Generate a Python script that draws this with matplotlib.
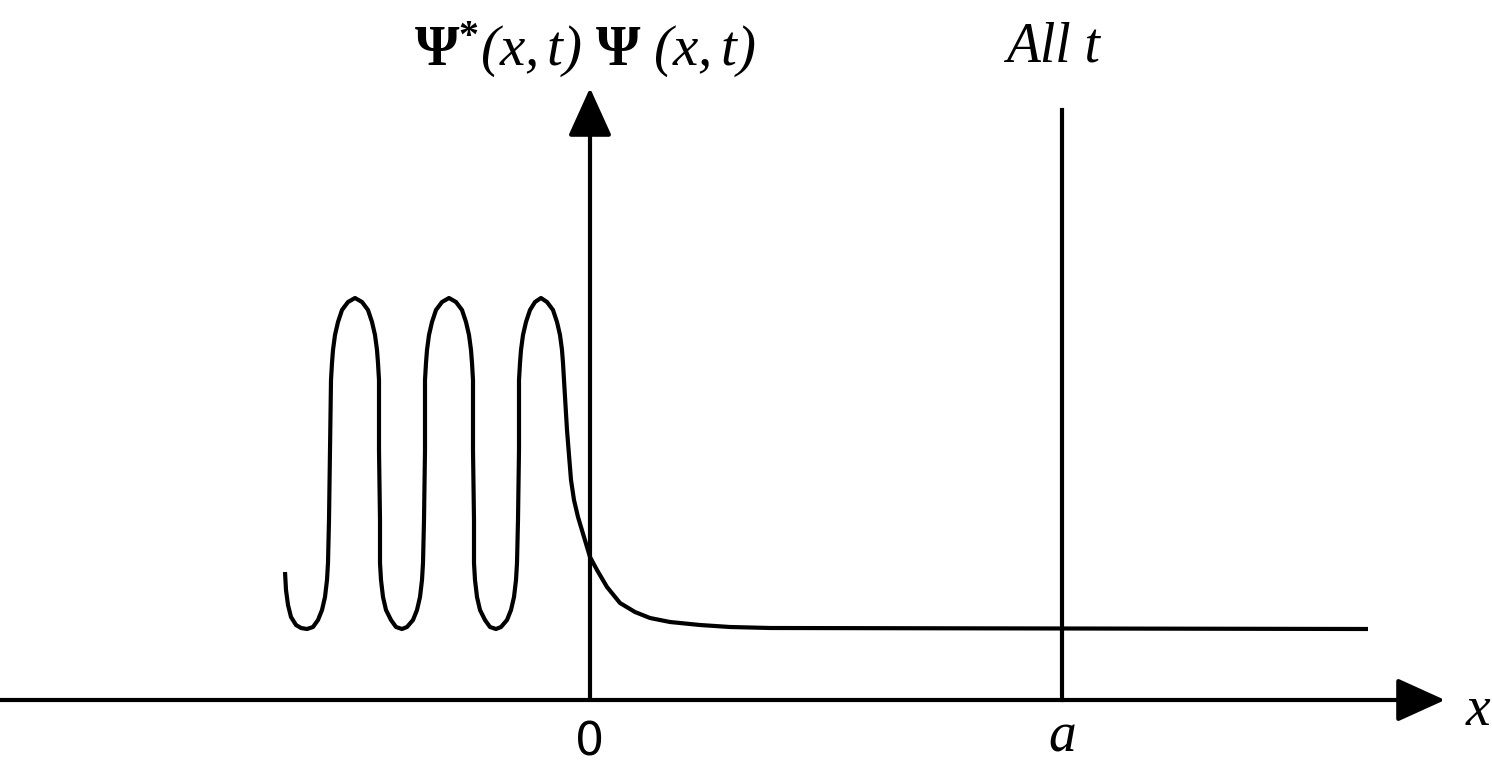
import numpy as np
import matplotlib.pyplot as plt

plt.rcParams["mathtext.fontset"] = "custom"
plt.rcParams["mathtext.rm"] = "Liberation Serif:italic"
plt.rcParams["mathtext.it"] = "Liberation Serif:italic"
plt.rcParams["mathtext.bf"] = "Liberation Serif:bold"

# |Psi|^2 curve (arbitrary units, origin where the axes cross)
x_curve = [-305, -304, -302, -299, -294, -289, -283,
           -277, -272, -268, -265, -263, -262, -261, -260, -259, -258, -257, -255, -252, -248,
           -242, -235, -228, -222, -218, -215, -213, -212, -211, -211, -210, -210, -209, -207,
           -204, -199, -194, -188,
           -183, -177, -173, -170, -168, -167, -166, -165, -165, -164, -163, -161, -158, -154,
           -148, -141, -134, -128, -124, -121, -119, -118, -117, -117, -116, -116, -115, -113,
           -110, -105, -100, -94,
           -89, -83, -79, -76, -74, -73, -72, -71, -71, -70, -69, -67, -64, -60,
           -55, -49, -43, -37, -33, -30, -28, -27, -26,
           -23, -21, -19, -16, -12, -6, 0, 7, 17, 30, 45, 60, 80, 110, 140, 180, 778]
y_curve = [128, 110, 95, 83, 75, 72, 71,
           73, 80, 90, 103, 120, 137, 180, 250, 320, 337, 350, 365, 378, 390,
           398, 402, 398, 390, 378, 365, 350, 337, 320, 250, 180, 137, 120, 103,
           90, 80, 73, 71,
           73, 80, 90, 103, 120, 137, 180, 250, 320, 337, 350, 365, 378, 390,
           398, 402, 398, 390, 378, 365, 350, 337, 320, 250, 180, 137, 120, 103,
           90, 80, 73, 71,
           73, 80, 90, 103, 120, 137, 180, 250, 320, 337, 350, 365, 378, 390,
           398, 402, 398, 390, 378, 365, 350, 337, 320,
           270, 245, 220, 200, 183, 163, 143, 130, 113, 97, 88, 82, 78, 75, 73, 72, 71]

x_min, x_max = -590, 902
y_min, y_max = -71, 700
x_tip = 855     # x-axis arrow tip
y_tip = 612     # y-axis arrow tip
a_pos = 472     # position of the wall "a"
a_top = 590

fig = plt.figure(figsize=(14.92, 7.71), dpi=100)
ax = fig.add_axes([0, 0, 1, 1])
ax.set_xlim(x_min, x_max)
ax.set_ylim(y_min, y_max)
ax.axis("off")

lw = 3.0
ax.plot(x_curve, y_curve, color="black", lw=lw, solid_capstyle="butt",
        solid_joinstyle="round")

# axes with arrows
arrow = dict(arrowstyle="-|>,head_length=0.75,head_width=0.34", color="black",
             lw=lw, mutation_scale=40, shrinkA=0, shrinkB=0)
ax.annotate("", xy=(x_tip, 0), xytext=(x_min, 0), arrowprops=arrow)
ax.annotate("", xy=(0, y_tip), xytext=(0, 0), arrowprops=arrow)

# wall at x = a
ax.plot([a_pos, a_pos], [0, a_top], color="black", lw=lw)

ax.text(-5, 650, r"$\mathbf{\Psi}^{\mathbf{*}}(x,t)\ \mathbf{\Psi}\ (x,t)$", fontsize=41,
        ha="center", va="center")
ax.text(463, 652, "All t", fontsize=40, family="Liberation Serif", style="italic",
        ha="center", va="center")
ax.text(0, -43, "0", fontsize=33, family="DejaVu Sans", ha="center", va="center")
ax.text(a_pos, -37, "a", fontsize=40, family="Liberation Serif", style="italic",
        ha="center", va="center")
ax.text(888, -11, "x", fontsize=40, family="Liberation Serif", style="italic",
        ha="center", va="center")

fig.savefig("out.png", dpi=100)
